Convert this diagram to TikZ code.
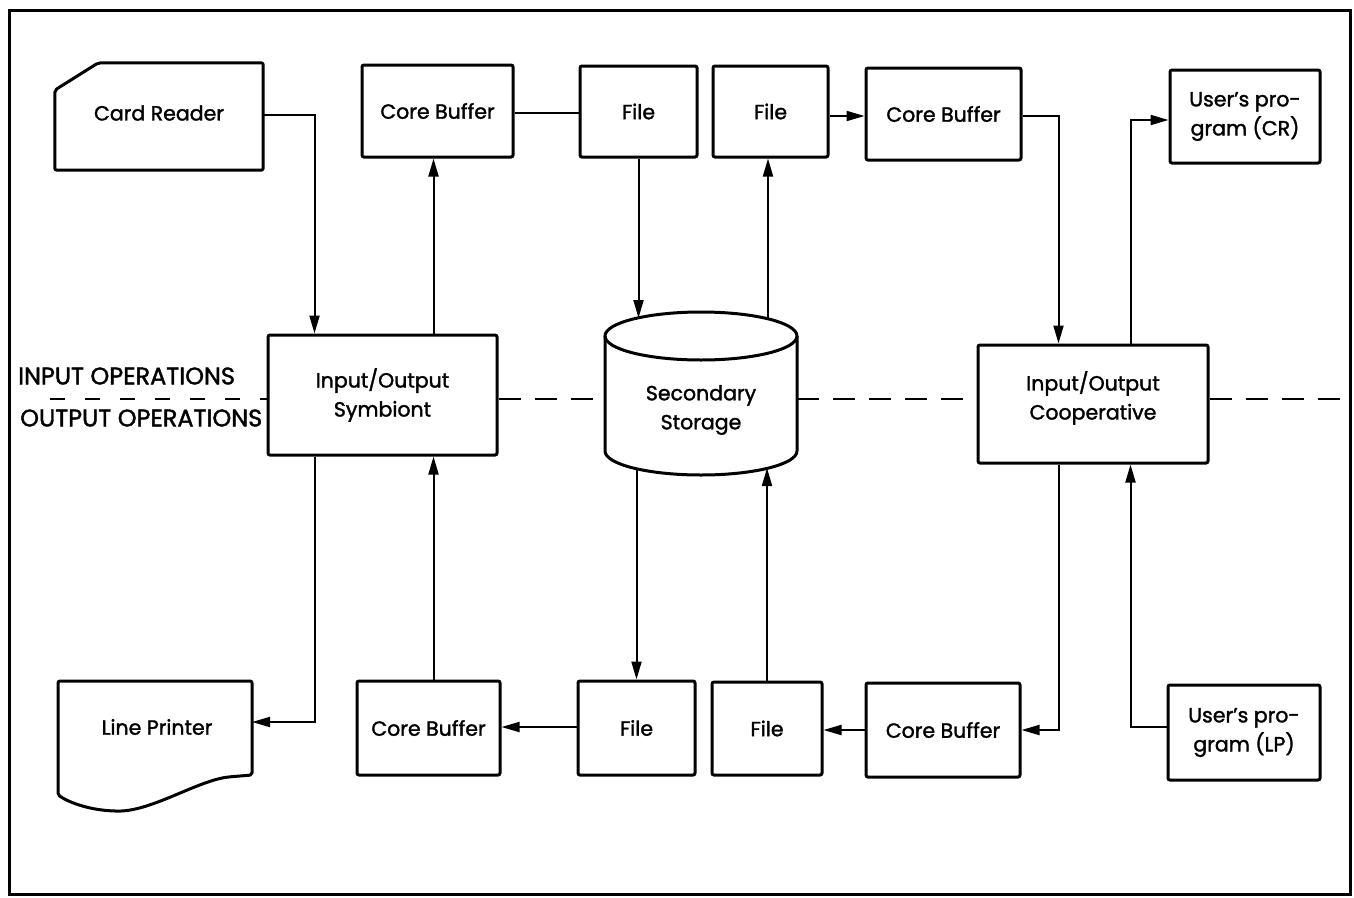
\documentclass[tikz,border=0pt]{standalone}
\usepackage{fontspec}
\setmainfont{Poppins}[FakeBold=1.6]
\usetikzlibrary{arrows.meta}

\begin{document}
\begin{tikzpicture}[x=1pt,y=-1pt,
  txt/.style={font=\fontsize{20.5}{29}\selectfont, align=center, inner sep=0pt},
  box/.style={txt, draw, line width=3pt, rounded corners=2pt},
  plain/.style={txt, draw=none},
  outline/.style={line width=3pt, rounded corners=2pt, line join=round},
  link/.style={line width=2pt},
  arr/.style={link, -{Triangle[length=18pt,width=10pt]}},
  divider/.style={line width=2pt, dash pattern=on 22pt off 14pt},
  oplabel/.style={font=\fontsize{24}{26}\selectfont, anchor=west, inner sep=0pt}]

\useasboundingbox (0,0) rectangle (1354,897);
\draw[line width=3pt] (9,10) rectangle (1350,894);

% --- peripheral units with special outlines
\node[plain, minimum width=208, minimum height=107] (cr) at (159,116.5) {};
\node[txt] (crtext) at (159,113) {Card Reader};
\draw[outline] (cr.south west) -- (55,90) -- (98,63) -- (cr.north east) -- (cr.south east) -- cycle;

\node[plain, minimum width=194, minimum height=92] (lp) at (157,727) {Line Printer};
\draw[outline] (58,681) -- (252,681) -- (252,775) -- (228,777)
  .. controls (195,782) and (150,812) .. (115,811)
  .. controls (90,810) and (70,803) .. (58,795) -- cycle;
\coordinate (lp-in) at (252,722);

% --- upper row (input path)
\node[box, minimum width=151, minimum height=92] (cb1) at (437.5,111) {Core Buffer};
\node[box, minimum width=117, minimum height=91] (f1) at (638.5,111.5) {File};
\node[box, minimum width=115, minimum height=91] (f2) at (770.5,111.5) {File};
\node[box, minimum width=155, minimum height=92] (cb2) at (943.5,114) {Core Buffer};
\node[box, minimum width=150, minimum height=93] (upcr) at (1245,116.5) {User's pro-\\gram (CR)};

% --- middle row
\node[box, minimum width=229, minimum height=120] (sym) at (382.5,395) {Input/Output\\Symbiont};
\node[box, minimum width=230, minimum height=118] (coop) at (1093,404) {};
\node[txt] (cooptext) at (1093,398) {Input/Output\\Cooperative};

% secondary storage drum
\node[plain, minimum width=192, minimum height=163] (store) at (701,393.5) {};
\node[txt] (storetext) at (701,410) {Secondary\\Storage};
\draw[line width=3pt] (701,336) ellipse [x radius=96, y radius=24];
\draw[line width=3pt] (605,336) -- (605,451) arc[start angle=180, end angle=0, x radius=96, y radius=24] -- (797,336);
\coordinate (st-tl) at (638.5,318);
\coordinate (st-tr) at (768,319);
\coordinate (st-bl) at (636.5,469);
\coordinate (st-br) at (767,468);

% --- lower row (output path)
\node[box, minimum width=143, minimum height=94] (cb3) at (428.5,728) {Core Buffer};
\node[box, minimum width=117, minimum height=94] (f3) at (636.5,728) {File};
\node[box, minimum width=110, minimum height=93] (f4) at (767,728.5) {File};
\node[box, minimum width=154, minimum height=94] (cb4) at (943,730) {Core Buffer};
\node[box, minimum width=152, minimum height=95] (uplp) at (1244,732.5) {User's pro-\\gram (LP)};

% --- input/output boundary
\node[oplabel] (inlab) at (18,376) {INPUT OPERATIONS};
\node[oplabel] (outlab) at (20,418) {OUTPUT OPERATIONS};
\coordinate (dv0) at (50,399);
\coordinate (dv1) at (1345,399);
\draw[divider, dash pattern=on 15pt off 20pt] (dv0) -- (dv0 -| sym.west);
\draw[divider] (sym.east |- dv0) -- (store.west |- dv0);
\draw[divider] (store.east |- dv0) -- (coop.west |- dv0);
\draw[divider] (coop.east |- dv0) -- (dv1);

% --- input flow
\coordinate (sy-a) at ([xshift=48]sym.north west);
\coordinate (sy-b) at ([xshift=167]sym.north west);
\coordinate (sy-c) at ([xshift=48]sym.south west);
\coordinate (sy-d) at ([xshift=167]sym.south west);
\coordinate (co-a) at ([xshift=82]coop.north west);
\coordinate (co-b) at ([xshift=154]coop.north west);
\coordinate (co-c) at ([xshift=82]coop.south west);
\coordinate (co-d) at ([xshift=154]coop.south west);

\draw[arr] (cr.east |- 0,115) -| (sy-a);
\draw[arr] (sy-b) -- (sy-b |- cb1.south);
\draw[link] (cb1.east |- 0,113) -- (f1.west |- 0,113);
\draw[arr] (f1.south) -- (st-tl);
\draw[arr] (st-tr) -- (st-tr |- f2.south);
\draw[arr] (f2.east |- 0,116) -- (cb2.west |- 0,116);
\draw[arr] (cb2.east |- 0,116) -| (co-a);
\draw[arr] (co-b) |- (upcr.west |- 0,120);

% --- output flow
\draw[arr] (uplp.west |- 0,727) -| (co-d);
\draw[arr] (co-c) |- (cb4.east);
\draw[arr] (cb4.west) -- (cb4.west -| f4.east);
\draw[arr] (f4.north) -- (st-br);
\draw[arr] (st-bl) -- (st-bl |- f3.north);
\draw[arr] (f3.west |- 0,727) -- (cb3.east |- 0,727);
\draw[arr] (sy-d |- cb3.north) -- (sy-d);
\draw[arr] (sy-c) |- (lp-in);
\end{tikzpicture}
\end{document}
